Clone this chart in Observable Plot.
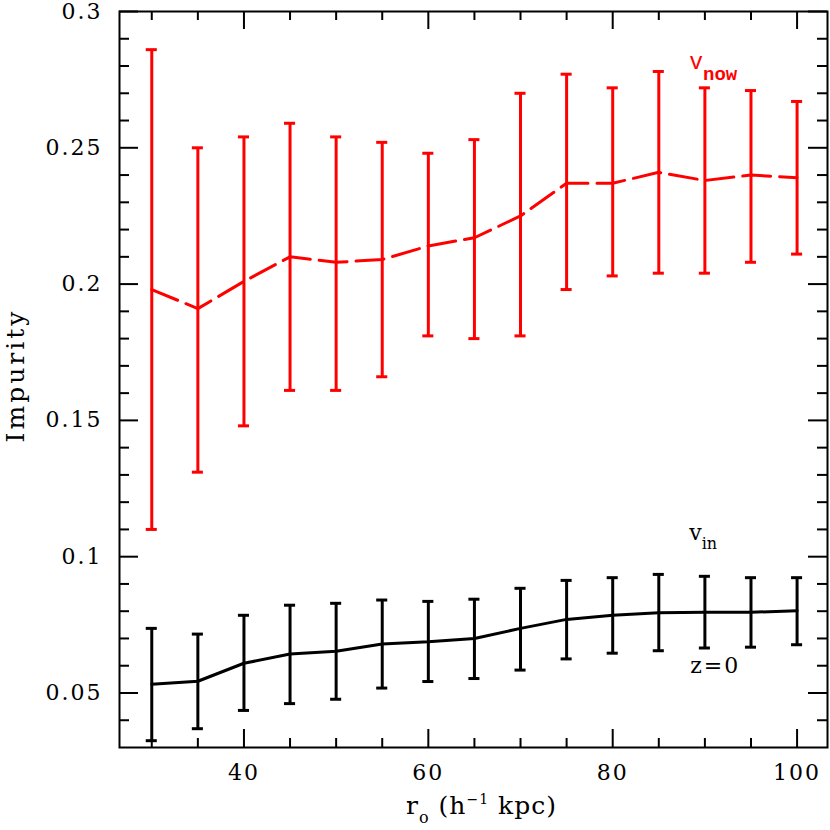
<!DOCTYPE html>
<html><head><meta charset="utf-8">
<script src="https://cdn.jsdelivr.net/npm/d3@7"></script>
<script src="https://cdn.jsdelivr.net/npm/@observablehq/plot@0.6"></script>
<style>
body{margin:0;background:#fff;}
#chart svg{display:block;}
g[aria-label="x-axis tick label"] text, g[aria-label="y-axis tick label"] text {letter-spacing:2px;}
</style>
</head><body><div id="chart"></div>
<script>
// ---- data ----
const radius = [30, 35, 40, 45, 50, 55, 60, 65, 70, 75, 80, 85, 90, 95, 100];
const vnowMean = [0.198, 0.191, 0.201, 0.210, 0.208, 0.209, 0.214, 0.217, 0.225, 0.237, 0.237, 0.241, 0.238, 0.240, 0.239];
const vnowLow  = [0.110, 0.131, 0.148, 0.161, 0.161, 0.166, 0.181, 0.180, 0.181, 0.198, 0.203, 0.204, 0.204, 0.208, 0.211];
const vnowHigh = [0.286, 0.250, 0.254, 0.259, 0.254, 0.252, 0.248, 0.253, 0.270, 0.277, 0.272, 0.278, 0.272, 0.271, 0.267];
const vinMean  = [0.0532, 0.0543, 0.0609, 0.0643, 0.0653, 0.0680, 0.0688, 0.0700, 0.0737, 0.0770, 0.0785, 0.0794, 0.0796, 0.0796, 0.0802];
const vinLow   = [0.0325, 0.0369, 0.0436, 0.0461, 0.0477, 0.0518, 0.0542, 0.0553, 0.0584, 0.0625, 0.0646, 0.0655, 0.0665, 0.0668, 0.0677];
const vinHigh  = [0.0737, 0.0716, 0.0785, 0.0822, 0.0829, 0.0841, 0.0836, 0.0844, 0.0884, 0.0913, 0.0923, 0.0935, 0.0928, 0.0923, 0.0923];
const xTickLabels = [40, 60, 80, 100];
const xMinorTicks = [30, 35, 45, 50, 55, 65, 70, 75, 85, 90, 95];
const yTickLabels = [0.05, 0.1, 0.15, 0.2, 0.25, 0.3];
const yMinorTicks = [0.04, 0.06, 0.07, 0.08, 0.09, 0.11, 0.12, 0.13, 0.14, 0.16, 0.17, 0.18, 0.19, 0.21, 0.22, 0.23, 0.24, 0.26, 0.27, 0.28, 0.29];
const annotations = [
  {label: "v_now", x: 88.3, y: 0.2788},
  {label: "v_in", x: 88.3, y: 0.106},
  {label: "z=0", x: 88.4, y: 0.0573}
];
const xLabel = "r_o (h^-1 kpc)";
const yLabel = "Impurity";

// ---- layout ----
const W = 830, H = 830;
const mL = 119, mR = 3, mT = 11, mB = 83;
const innerW = W - mL - mR, innerH = H - mT - mB;
const capHalf = 0.6;

const vnow = radius.map((r, i) => ({r, mean: vnowMean[i], lo: vnowLow[i], hi: vnowHigh[i]}));
const vin = radius.map((r, i) => ({r, mean: vinMean[i], lo: vinLow[i], hi: vinHigh[i]}));

function errMarks(data, color, dash) {
  return [
    Plot.ruleX(data, {x: "r", y1: "lo", y2: "hi", stroke: color, strokeWidth: 3}),
    Plot.ruleY(data, {y: "hi", x1: d => d.r - capHalf, x2: d => d.r + capHalf, stroke: color, strokeWidth: 3}),
    Plot.ruleY(data, {y: "lo", x1: d => d.r - capHalf, x2: d => d.r + capHalf, stroke: color, strokeWidth: 3}),
    Plot.line(data, {x: "r", y: "mean", stroke: color, strokeWidth: 3, strokeDasharray: dash})
  ];
}

function ticks() {
  const majX = 18, minX = 9, majY = 19, minY = 10;
  const tk = {stroke: "black", strokeWidth: 2};
  return [
    Plot.tickX(xTickLabels, {x: d => d, insetTop: innerH - majX, ...tk}),
    Plot.tickX(xMinorTicks, {x: d => d, insetTop: innerH - minX, ...tk}),
    Plot.tickX(xTickLabels, {x: d => d, insetBottom: innerH - majX, ...tk}),
    Plot.tickX(xMinorTicks, {x: d => d, insetBottom: innerH - minX, ...tk}),
    Plot.tickY(yTickLabels, {y: d => d, insetRight: innerW - majY, ...tk}),
    Plot.tickY(yMinorTicks, {y: d => d, insetRight: innerW - minY, ...tk}),
    Plot.tickY(yTickLabels, {y: d => d, insetLeft: innerW - majY, ...tk}),
    Plot.tickY(yMinorTicks, {y: d => d, insetLeft: innerW - minY, ...tk})
  ];
}

const plot = Plot.plot({
  width: W, height: H,
  marginLeft: mL, marginRight: mR, marginTop: mT, marginBottom: mB,
  style: {fontFamily: "DejaVu Serif", background: "white", color: "black"},
  x: {domain: [26.5, 103.3]},
  y: {domain: [0.03, 0.3]},
  marks: [
    ...errMarks(vnow, "#ff0000", "28,9"),
    ...errMarks(vin, "black", null),
    ...ticks(),
    Plot.frame({stroke: "black", strokeWidth: 2}),
    Plot.axisX(xTickLabels, {anchor: "bottom", tickSize: 0, tickPadding: 17, tickFormat: d => String(d), fontSize: 22, fontFamily: "DejaVu Serif", label: null}),
    Plot.axisY(yTickLabels, {anchor: "left", tickSize: 0, tickPadding: 17, tickFormat: d => String(d), fontSize: 22, fontFamily: "DejaVu Serif", label: null}),
    Plot.text([annotations[0]], {x: "x", y: "y", text: "label", textAnchor: "start", lineAnchor: "bottom", fill: "#ff0000", fontFamily: "Liberation Mono", fontSize: 23}),
    Plot.text([annotations[1]], {x: "x", y: "y", text: "label", textAnchor: "start", lineAnchor: "bottom", fill: "black", fontFamily: "DejaVu Serif", fontSize: 22}),
    Plot.text([annotations[2]], {x: "x", y: "y", text: "label", textAnchor: "start", lineAnchor: "bottom", fill: "black", fontFamily: "DejaVu Serif", fontSize: 22}),
    Plot.text([xLabel], {frameAnchor: "bottom", dx: 8, dy: 66, text: d => d, textAnchor: "middle", lineAnchor: "bottom", fontSize: 25, fontFamily: "DejaVu Serif"}),
    Plot.text([yLabel], {frameAnchor: "left", dx: -104, dy: -4, rotate: -90, text: d => d, textAnchor: "middle", lineAnchor: "middle", fontSize: 25, fontFamily: "DejaVu Serif"})
  ]
});

document.getElementById("chart").appendChild(plot);

function rich(svg, raw, parts, extra) {
  d3.select(svg).selectAll("text").filter(function() { return this.textContent === raw; }).each(function() {
    const t = d3.select(this);
    t.selectAll("*").remove();
    t.text(null);
    if (extra) for (const k in extra) t.style(k, extra[k]);
    let shift = 0;
    for (const p of parts) {
      const s = t.append("tspan").text(p.t);
      const target = p.dy || 0;
      if (target !== shift) s.attr("dy", target - shift);
      shift = target;
      if (p.size) s.attr("font-size", p.size);
      if (p.weight) s.attr("font-weight", p.weight);
    }
  });
}
rich(plot, "v_now", [{t: "v"}, {t: "now", dy: 11, size: 19, weight: "bold"}]);
rich(plot, "v_in", [{t: "v"}, {t: "in", dy: 9, size: 16}]);
rich(plot, "z=0", [{t: "z=0"}], {"letter-spacing": "2px"});
rich(plot, xLabel, [{t: "r"}, {t: "o", dy: 9, size: 16}, {t: " (h", dy: 0}, {t: "−1", dy: -10, size: 14}, {t: " kpc)", dy: 0}], {"letter-spacing": "1px"});
rich(plot, yLabel, [{t: "Impurity"}], {"letter-spacing": "3px"});
</script>
</body></html>
